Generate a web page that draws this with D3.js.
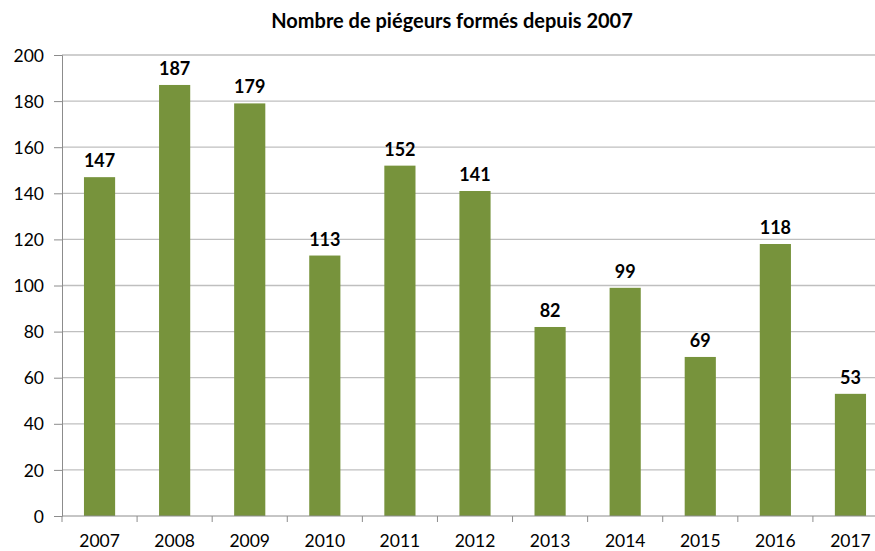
<!DOCTYPE html>
<html>
<head>
<meta charset="utf-8">
<script src="https://cdn.jsdelivr.net/npm/d3@7"></script>
<style>
  body { margin: 0; background: #fff; }
  svg { display: block; font-family: Lato, "Noto Sans", sans-serif; }
</style>
</head>
<body>
<svg id="chart"></svg>
<script>
const years = ["2007", "2008", "2009", "2010", "2011", "2012", "2013", "2014", "2015", "2016", "2017"];
const trained = [147, 187, 179, 113, 152, 141, 82, 99, 69, 118, 53];
const yTicks = [0, 20, 40, 60, 80, 100, 120, 140, 160, 180, 200];

function drawChart() {
    const svg = d3.select("#chart"),
        width = 875,
        height = 551,
        margin = { top: 55, left: 62, bottom: 35 },
        plotRight = 888;

    svg.attr("width", width).attr("height", height);

    const x = d3.scaleBand()
        .domain(years)
        .range([margin.left, plotRight])
        .paddingInner(0.585)
        .paddingOuter(0.2925);

    const band = d3.scaleBand()
        .domain(years)
        .range([margin.left, plotRight]);

    const y = d3.scaleLinear()
        .domain([0, 200])
        .range([height - margin.bottom, margin.top]);

    // horizontal gridlines
    svg.append("g")
        .selectAll("line")
        .data(yTicks.filter(d => d > 0))
        .enter().append("line")
        .attr("x1", margin.left)
        .attr("x2", plotRight)
        .attr("y1", d => y(d))
        .attr("y2", d => y(d))
        .style("stroke", "#bfbfbf")
        .style("stroke-width", "1.3px");

    // y axis
    const yAxis = svg.append("g")
        .attr("transform", `translate(${margin.left},0)`)
        .call(d3.axisLeft(y).tickValues(yTicks).tickSize(8).tickPadding(10));
    yAxis.select(".domain").style("stroke", "#8c8c8c");
    yAxis.selectAll(".tick line").style("stroke", "#8c8c8c");
    yAxis.selectAll("text")
        .style("font-size", "17.5px")
        .style("fill", "#000")
        .style("font-family", "Lato, 'Noto Sans', sans-serif")
        .attr("dy", "0.35em");

    // bars
    svg.append("g")
        .selectAll("rect")
        .data(trained)
        .enter().append("rect")
        .attr("x", (d, i) => x(years[i]))
        .attr("y", d => y(d))
        .attr("width", x.bandwidth())
        .attr("height", d => y(0) - y(d))
        .attr("fill", "#77933c");

    // x axis with ticks at category boundaries
    const xg = svg.append("g")
        .attr("transform", `translate(0,${y(0)})`);
    xg.append("line")
        .attr("x1", margin.left).attr("x2", plotRight)
        .style("stroke", "#8c8c8c");
    xg.selectAll(".bound")
        .data(years.concat(["end"]))
        .enter().append("line")
        .attr("class", "bound")
        .attr("x1", (d, i) => margin.left + i * band.bandwidth())
        .attr("x2", (d, i) => margin.left + i * band.bandwidth())
        .attr("y1", 0).attr("y2", 6)
        .style("stroke", "#8c8c8c");
    xg.selectAll("text")
        .data(years)
        .enter().append("text")
        .attr("x", d => band(d) + band.bandwidth() / 2)
        .attr("y", 31)
        .attr("text-anchor", "middle")
        .style("font-size", "17.5px")
        .text(d => d);

    // value labels
    svg.append("g")
        .selectAll("text")
        .data(trained)
        .enter().append("text")
        .attr("x", (d, i) => x(years[i]) + x.bandwidth() / 2)
        .attr("y", d => y(d) - 10)
        .attr("text-anchor", "middle")
        .style("font-size", "18px")
        .style("font-weight", "bold")
        .text(d => d);

    // title
    svg.append("text")
        .attr("x", 452)
        .attr("y", 28)
        .attr("text-anchor", "middle")
        .style("font-size", "20px")
        .style("font-weight", "bold")
        .text("Nombre de piégeurs formés depuis 2007");
}

drawChart();
</script>
</body>
</html>
